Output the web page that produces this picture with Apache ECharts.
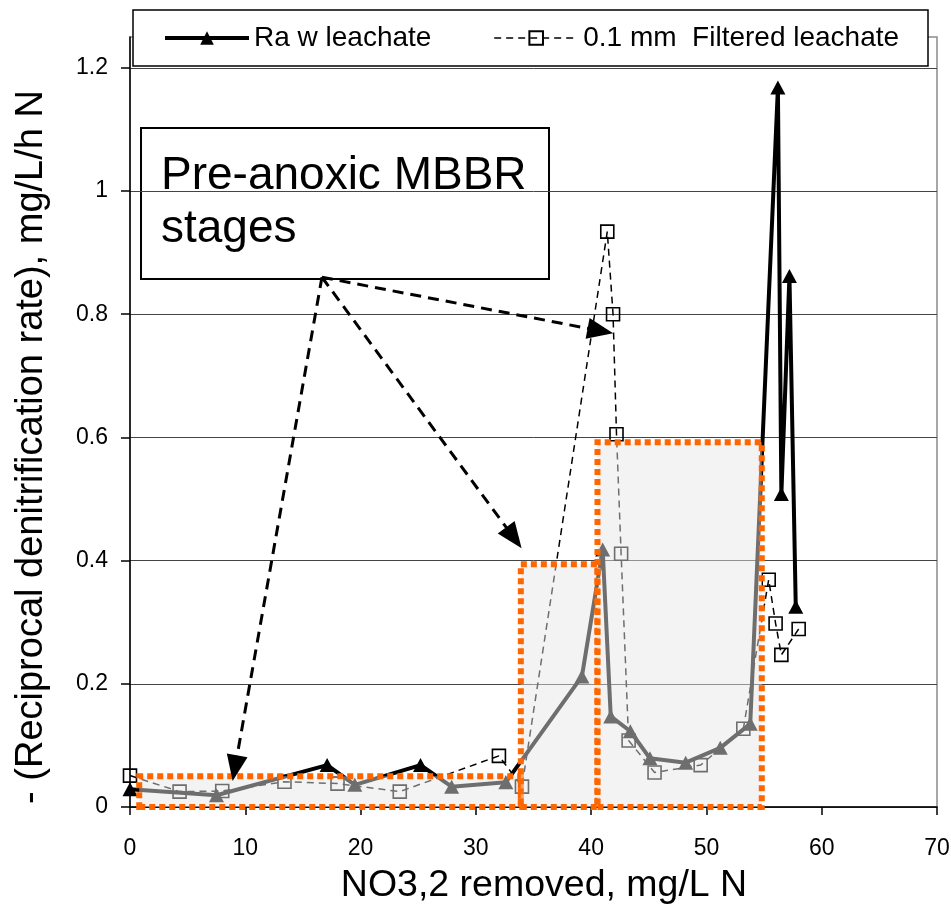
<!DOCTYPE html>
<html>
<head>
<meta charset="utf-8">
<title>Reciprocal denitrification rate</title>
<script src="https://cdn.jsdelivr.net/npm/echarts@6/dist/echarts.min.js"></script>
<style>
    html, body { margin: 0; padding: 0; background: #fff; }
    #chart { width: 951px; height: 913px; }
</style>
</head>
<body>
<div id="chart"></div>
<script>
    'use strict';

    // raw leachate  [NO3,2 removed, rate]
    const rawX = [0, 7.5, 17.1, 19.5, 25.2, 27.9, 32.6, 39.2, 41.0, 41.7, 43.4, 45.1, 48.2, 51.2, 53.8, 56.2, 56.5, 57.2, 57.75];
    const rawY = [0.029, 0.019, 0.068, 0.036, 0.068, 0.033, 0.040, 0.212, 0.418, 0.147, 0.123, 0.079, 0.072, 0.096, 0.135, 1.168, 0.508, 0.862, 0.325];

    // 0.1 mm filtered leachate
    const filtX = [0, 4.3, 8.0, 13.4, 18.0, 23.4, 32.0, 34.0, 41.4, 41.9, 42.2, 42.6, 43.25, 45.5, 49.5, 53.2, 55.4, 56.0, 56.5, 58.0];
    const filtY = [0.051, 0.025, 0.026, 0.041, 0.038, 0.025, 0.083, 0.033, 0.934, 0.80, 0.605, 0.411, 0.108, 0.056, 0.068, 0.127, 0.369, 0.298, 0.247, 0.289];

    // stage boxes: [xFrom, xTo, yTop]
    const stageX0 = [0.8, 33.9, 40.55];
    const stageX1 = [33.9, 40.55, 54.8];
    const stageTop = [0.05, 0.394, 0.592];

    // arrows from the label box to the stages
    const arrowFrom = [16.65, 0.86];
    const arrowToX = [9.1, 33.3, 40.8];
    const arrowToY = [0.063, 0.437, 0.773];

    const yTicks = [0, 0.2, 0.4, 0.6, 0.8, 1, 1.2];
    const seriesNames = ['Ra w leachate', '0.1 mm  Filtered leachate'];
    const xTitle = 'NO3,2 removed, mg/L N';

    const FONT = 'Liberation Sans, Arial, sans-serif';

    function pairs(xs, ys) {
        return xs.map((x, i) => [x, ys[i]]);
    }

    let chart = echarts.init(document.getElementById('chart'), null, {renderer: 'canvas'});

    let areas = stageX0.map((x0, i) => [{xAxis: x0, yAxis: 0}, {xAxis: stageX1[i], yAxis: stageTop[i]}]);
    let arrows = arrowToX.map((x, i) => [{coord: arrowFrom}, {coord: [x, arrowToY[i]]}]);

    let option = {
        animation: false,
        backgroundColor: '#fff',
        textStyle: {fontFamily: FONT},
        grid: {
            left: 130, right: 14, top: 37, bottom: 106,
            outerBoundsMode: 'none',
            show: true, borderColor: '#8a8a8a', borderWidth: 1.5, backgroundColor: 'transparent'
        },
        legend: {
            data: seriesNames,
            left: 163, top: 24, padding: 0,
            itemWidth: 84, itemHeight: 17, itemGap: 62,
            lineStyle: {width: 'inherit'},
            textStyle: {fontSize: 28, color: '#000', fontFamily: FONT},
            z: 10
        },
        xAxis: {
            type: 'value', min: 0, max: 70, interval: 10,
            axisLine: {lineStyle: {color: '#000', width: 1.5}},
            axisTick: {show: true, length: 8, lineStyle: {color: '#000', width: 1.5}},
            // padding keeps the labels below the ticks (v6 pulls them up otherwise)
            axisLabel: {fontSize: 23, color: '#000', margin: 15, padding: [15, 0, 0, 0]},
            splitLine: {show: false}
        },
        yAxis: {
            type: 'value', min: 0, max: 1.25, interval: 0.2,
            name: '- (Reciprocal denitrification rate), mg/L/h N',
            nameLocation: 'middle', nameGap: 79, nameRotate: 90,
            nameTextStyle: {fontSize: 38, color: '#000', fontFamily: FONT, padding: [0, 50, 0, 0]},
            axisLine: {show: true, lineStyle: {color: '#000', width: 1.5}},
            axisTick: {show: true, length: 9, customValues: yTicks, lineStyle: {color: '#000', width: 1.5}},
            axisLabel: {
                fontSize: 23, color: '#000', margin: 22, customValues: yTicks,
                formatter: v => (yTicks.indexOf(v) < 0 ? '' : String(v))
            },
            splitLine: {show: true, lineStyle: {color: '#444', width: 1}}
        },
        series: [
            {
                name: seriesNames[0],
                type: 'line',
                data: pairs(rawX, rawY),
                symbol: 'triangle', symbolSize: [15, 14],
                lineStyle: {color: '#000', width: 4},
                itemStyle: {color: '#000'},
                z: 2
            },
            {
                name: seriesNames[1],
                type: 'line',
                data: pairs(filtX, filtY),
                symbol: 'rect', symbolSize: 13,
                lineStyle: {color: '#000', width: 1.5, type: [7, 5]},
                itemStyle: {color: 'rgba(255,255,255,0)', borderColor: '#000', borderWidth: 1.6},
                z: 3
            },
            {
                // overlay: shaded stages + arrows
                name: 'stages',
                type: 'line',
                data: [],
                silent: true,
                markArea: {
                    z: 5,
                    silent: true,
                    itemStyle: {
                        color: 'rgba(230,230,230,0.48)',
                        borderColor: '#ff6600', borderWidth: 6, borderType: [6, 4]
                    },
                    label: {show: false},
                    data: areas
                },
                markLine: {
                    z: 6,
                    silent: true,
                    symbol: ['none', 'triangle'],
                    symbolSize: [21, 26],
                    label: {show: false},
                    lineStyle: {color: '#000', width: 3, type: [11, 7]},
                    data: arrows
                }
            }
        ],
        graphic: [
            {
                // legend frame
                type: 'rect', z: 8,
                shape: {x: 133, y: 10, width: 795, height: 56},
                style: {fill: '#fff', stroke: '#000', lineWidth: 1.5}
            },
            {
                type: 'group', left: 140, top: 127, z: 9,
                children: [
                    {
                        type: 'rect',
                        shape: {x: 0, y: 0, width: 408, height: 151},
                        style: {fill: '#fff', stroke: '#000', lineWidth: 2}
                    },
                    {
                        type: 'text', x: 20, y: 22,
                        style: {text: 'Pre-anoxic MBBR\nstages', font: '46px ' + FONT, fill: '#000', lineHeight: 53}
                    }
                ]
            },
            {
                // x axis title
                type: 'text', x: 544, y: 886,
                style: {text: xTitle, font: '37.5px ' + FONT, fill: '#000', align: 'center', verticalAlign: 'middle'}
            }
        ]
    };

    chart.setOption(option);
</script>
</body>
</html>
